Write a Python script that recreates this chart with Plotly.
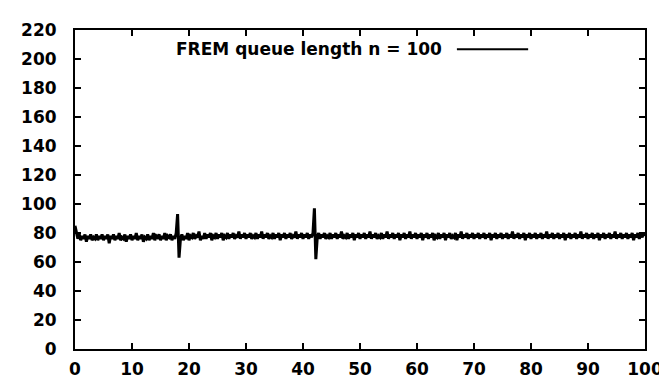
import plotly.graph_objects as go

series_name = "FREM queue length n = 100"
x_step = 0.25
queue_length = [
    85, 80, 76, 79, 75, 78, 76, 79, 74, 78, 76, 79, 75, 77, 76, 79, 75, 78, 76, 79,
    75, 78, 76, 79, 73, 78, 76, 79, 75, 78, 76, 80, 75, 77, 76, 79, 74, 78, 76, 79,
    75, 78, 76, 80, 75, 78, 76, 79, 74, 77, 76, 79, 75, 78, 76, 80, 75, 78, 77, 79,
    75, 78, 76, 80, 75, 78, 77, 79, 75, 78, 76, 80, 93, 63, 76, 79, 75, 78, 76, 80,
    75, 78, 77, 80, 76, 78, 77, 81, 75, 78, 76, 80, 76, 79, 77, 80, 75, 78, 77, 80,
    76, 79, 77, 80, 75, 78, 77, 80, 76, 79, 77, 80, 76, 78, 77, 81, 76, 79, 77, 80,
    76, 79, 77, 80, 76, 78, 77, 80, 76, 79, 77, 81, 76, 79, 77, 80, 76, 78, 77, 80,
    76, 79, 77, 80, 75, 79, 77, 80, 76, 79, 77, 80, 76, 78, 77, 81, 76, 79, 77, 80,
    76, 79, 77, 80, 76, 79, 77, 80, 97, 62, 77, 80, 76, 79, 77, 80, 76, 78, 77, 80,
    76, 79, 77, 80, 76, 79, 77, 81, 76, 78, 77, 80, 76, 79, 77, 80, 75, 79, 77, 80,
    76, 79, 77, 80, 76, 79, 77, 81, 76, 79, 77, 80, 76, 78, 77, 80, 76, 79, 77, 81,
    76, 79, 77, 80, 76, 79, 77, 80, 75, 79, 77, 80, 76, 79, 77, 81, 76, 79, 77, 80,
    76, 79, 77, 80, 75, 79, 77, 80, 76, 79, 77, 80, 75, 78, 77, 80, 76, 79, 77, 80,
    75, 79, 77, 80, 76, 78, 77, 80, 75, 79, 77, 81, 76, 79, 77, 80, 76, 79, 77, 80,
    76, 79, 77, 80, 76, 79, 77, 80, 76, 79, 77, 80, 75, 79, 77, 80, 76, 79, 77, 80,
    76, 79, 77, 80, 76, 79, 77, 81, 76, 79, 77, 80, 76, 79, 77, 80, 75, 79, 77, 80,
    76, 79, 77, 80, 76, 79, 77, 80, 76, 79, 77, 81, 76, 79, 77, 80, 76, 79, 77, 80,
    76, 79, 77, 80, 75, 79, 77, 80, 76, 79, 77, 80, 76, 79, 77, 81, 76, 79, 77, 80,
    76, 79, 77, 80, 76, 79, 77, 80, 75, 79, 77, 80, 76, 79, 77, 80, 76, 79, 77, 81,
    76, 79, 77, 80, 76, 79, 77, 80, 76, 79, 77, 80, 75, 79, 77, 80, 76, 79, 77, 80,
    78,
]
x_values = [i * x_step for i in range(len(queue_length))]

x_ticks = [0, 10, 20, 30, 40, 50, 60, 70, 80, 90, 100]
y_ticks = [0, 20, 40, 60, 80, 100, 120, 140, 160, 180, 200, 220]

tick_font = dict(family="DejaVu Sans", size=17, color="black", weight="bold")

fig = go.Figure()
fig.add_trace(go.Scatter(x=x_values, y=queue_length, mode="lines",
                         line=dict(color="black", width=3), name=series_name,
                         showlegend=False))

axis_common = dict(showline=True, linecolor="black", linewidth=2, mirror="ticks",
                   ticks="inside", ticklen=6, tickcolor="black", tickwidth=1.5,
                   showgrid=False, zeroline=False, tickfont=tick_font)
fig.update_xaxes(range=[0, 100], tickvals=x_ticks, ticktext=[str(v) for v in x_ticks],
                 ticklabelstandoff=4, **axis_common)
fig.update_yaxes(range=[0, 220], tickvals=y_ticks, ticktext=[str(v) for v in y_ticks],
                 ticklabelstandoff=13, **axis_common)

fig.add_annotation(x=0.6476, y=0.9396, xref="paper", yref="paper", text="<b>" + series_name + "</b>",
                   showarrow=False, xanchor="right", yanchor="middle",
                   font=dict(family="DejaVu Sans", size=17, color="black"))
fig.add_shape(type="line", xref="paper", yref="paper", x0=0.670, x1=0.795, y0=0.9396, y1=0.9396,
              line=dict(color="black", width=2))

fig.update_layout(width=667, height=383, margin=dict(l=67, r=24, t=15, b=37),
                  plot_bgcolor="white", paper_bgcolor="white")
fig.write_html("out.html")
